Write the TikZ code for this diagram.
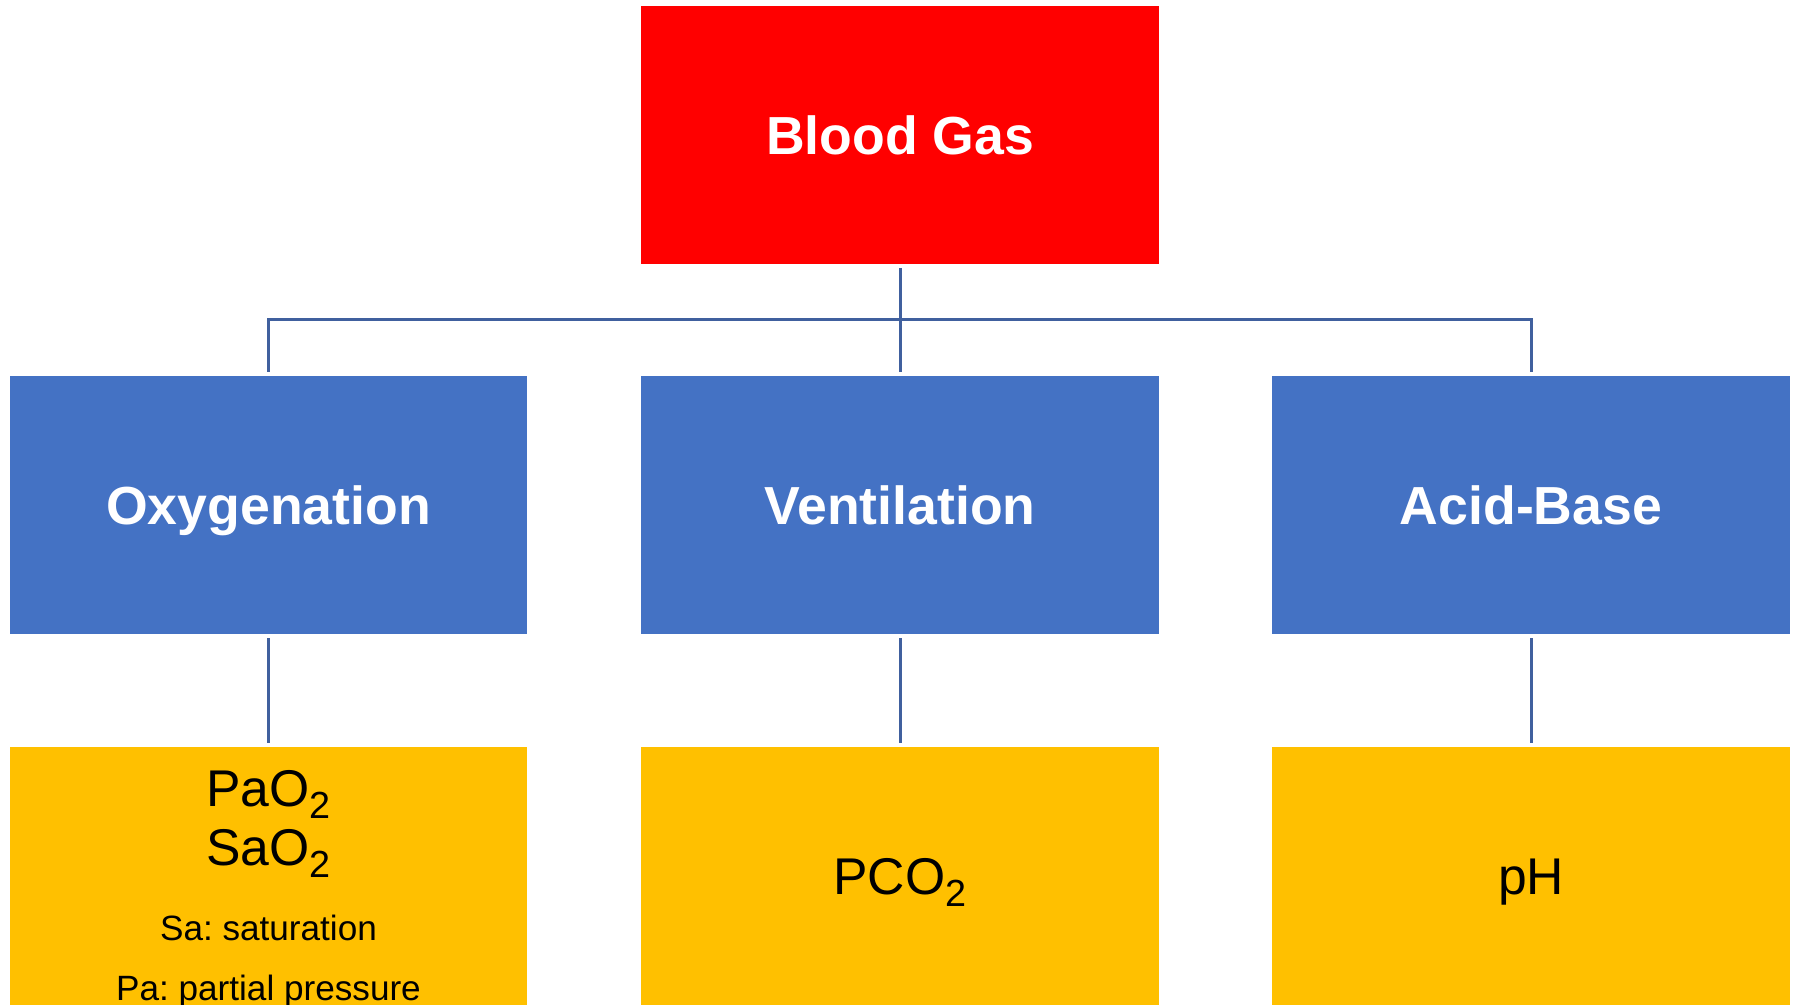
\documentclass[tikz,border=0pt]{standalone}
\usepackage{fontspec}
\setmainfont{Liberation Sans}
\usetikzlibrary{positioning}
\frenchspacing
\definecolor{gasred}{RGB}{255,0,0}
\definecolor{groupblue}{RGB}{68,114,196}
\definecolor{valyellow}{RGB}{255,192,0}
\definecolor{linkblue}{RGB}{64,96,158}
\newcommand{\subtwo}[1]{\raisebox{-0.24em}{\fontsize{21.5}{24}\selectfont #1}}
\tikzset{
  box/.style={rectangle, minimum width=10.36cm, minimum height=5.16cm, inner sep=0pt,
    text depth=0pt},
  head/.style={box, fill=gasred, text=white, text height=21.9pt,
    font=\fontsize{30.5}{36}\selectfont\bfseries},
  group/.style={box, fill=groupblue, text=white, text height=21.9pt,
    font=\fontsize{30.5}{36}\selectfont\bfseries},
  value/.style={box, fill=valyellow, text=black, text height=21.1pt,
    font=\fontsize{29.4}{35}\selectfont},
  bigtxt/.style={inner sep=0pt, font=\fontsize{29.4}{35}\selectfont},
  note/.style={inner sep=0pt, font=\fontsize{20}{24}\selectfont\frenchspacing},
  conn/.style={draw=linkblue, line width=1.7pt, shorten <=0.08cm, shorten >=0.08cm},
}
\begin{document}
\begin{tikzpicture}[x=0.02cm, y=-0.02cm]
  \useasboundingbox (0,0) rectangle (1797,1004);
  \clip (0,0) rectangle (1797,1004);
  % top
  \node[head] (gas) at (900,135) {Blood Gas};
  % groups
  \node[group] (oxy) at (268.5,505) {Oxygenation};
  \node[group] (vent) at (900,505) {Ventilation};
  \node[group] (acid) at (1531,505) {Acid-Base};
  % values
  \node[value] (oxyval) at (268.5,876) {};
  \node[value] (ventval) at (900,876) {PCO\subtwo{2}};
  \node[value] (acidval) at (1531,876) {pH};
  \node[bigtxt, anchor=base] (pao) at (268.5,806) {PaO\subtwo{2}};
  \node[bigtxt, anchor=base] (sao) at (268.5,865) {SaO\subtwo{2}};
  \node[note, anchor=base] (sanote) at (268.5,940) {Sa: saturation};
  \node[note, anchor=base] (panote) at (268.5,1000) {Pa: partial pressure};
  % links
  \draw[conn] (gas) -- (vent);
  \draw[conn] (oxy.north) -- ++(0,-56) -| (acid.north);
  \draw[conn] (oxy) -- (oxyval);
  \draw[conn] (vent) -- (ventval);
  \draw[conn] (acid) -- (acidval);
\end{tikzpicture}
\end{document}
